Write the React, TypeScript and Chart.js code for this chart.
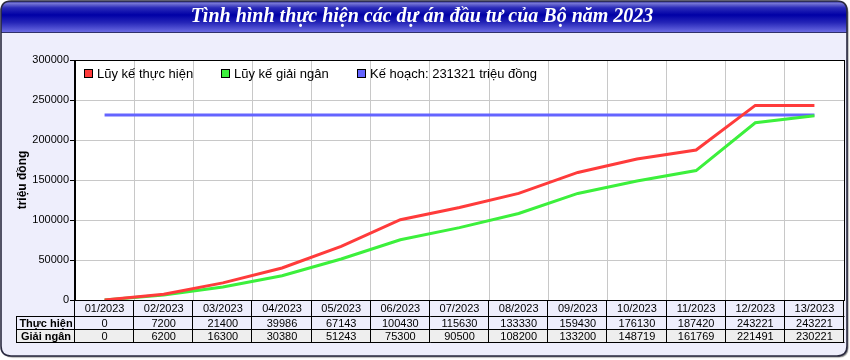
import React, { useEffect, useRef } from 'react';
import { Chart, registerables } from 'chart.js';

Chart.register(...registerables);

const TITLE = 'Tình hình thực hiện các dự án đầu tư của Bộ năm 2023';
const Y_TITLE = 'triệu đồng';
const MONTHS = ['01/2023', '02/2023', '03/2023', '04/2023', '05/2023', '06/2023', '07/2023', '08/2023', '09/2023', '10/2023', '11/2023', '12/2023', '13/2023'];
const THUC_HIEN = [0, 7200, 21400, 39986, 67143, 100430, 115630, 133330, 159430, 176130, 187420, 243221, 243221];
const GIAI_NGAN = [0, 6200, 16300, 30380, 51243, 75300, 90500, 108200, 133200, 148719, 161769, 221491, 230221];
const KE_HOACH = [231321, 231321, 231321, 231321, 231321, 231321, 231321, 231321, 231321, 231321, 231321, 231321, 231321];
const SERIES_NAMES = ['Lũy kế thực hiện', 'Lũy kế giải ngân', 'Kế hoạch: 231321 triệu đồng'];
const ROW_LABELS = ['Thực hiện', 'Giải ngân'];
const Y_MIN = 0;
const Y_MAX = 300000;
const Y_STEP = 50000;

const COLORS = ['#ff3b3b', '#3cf03c', '#6464ff'];
const FONT = '"Liberation Sans", Arial, sans-serif';

function roundRectPath(ctx: CanvasRenderingContext2D, x: number, y: number, w: number, h: number, r: number) {
  ctx.beginPath();
  ctx.moveTo(x + r, y);
  ctx.lineTo(x + w - r, y);
  ctx.quadraticCurveTo(x + w, y, x + w, y + r);
  ctx.lineTo(x + w, y + h - r);
  ctx.quadraticCurveTo(x + w, y + h, x + w - r, y + h);
  ctx.lineTo(x + r, y + h);
  ctx.quadraticCurveTo(x, y + h, x, y + h - r);
  ctx.lineTo(x, y + r);
  ctx.quadraticCurveTo(x, y, x + r, y);
  ctx.closePath();
}

const framePlugin = {
  id: 'frame',
  beforeDraw(chart: any) {
    const ctx: CanvasRenderingContext2D = chart.ctx;
    const W = chart.width;
    const H = chart.height;
    const ca = chart.chartArea;
    ctx.save();
    ctx.save();
    ctx.shadowColor = 'rgba(0,0,0,0.45)';
    ctx.shadowOffsetX = 1.5;
    ctx.shadowOffsetY = 1.5;
    ctx.shadowBlur = 1;
    roundRectPath(ctx, 1, 1, W - 4, H - 5, 10);
    ctx.fillStyle = '#eeeefc';
    ctx.fill();
    ctx.restore();
    ctx.save();
    roundRectPath(ctx, 1, 1, W - 4, H - 5, 10);
    ctx.clip();
    const g = ctx.createLinearGradient(0, 1, 0, 32);
    g.addColorStop(0, '#2a2a90');
    g.addColorStop(0.08, '#7474d4');
    g.addColorStop(0.22, '#2a2ab8');
    g.addColorStop(0.45, '#0000a6');
    g.addColorStop(0.7, '#2626b8');
    g.addColorStop(1, '#6a6ae2');
    ctx.fillStyle = g;
    ctx.fillRect(0, 0, W, 32);
    ctx.fillStyle = '#30306a';
    ctx.fillRect(0, 32, W, 1);
    ctx.restore();
    roundRectPath(ctx, 1, 1, W - 4, H - 5, 10);
    ctx.lineWidth = 1.6;
    ctx.strokeStyle = '#2a2a40';
    ctx.stroke();
    ctx.fillStyle = '#ffffff';
    ctx.fillRect(ca.left, ca.top, ca.right - ca.left, ca.bottom - ca.top);
    ctx.restore();
  },
  afterDraw(chart: any) {
    const ctx: CanvasRenderingContext2D = chart.ctx;
    const ca = chart.chartArea;
    const xs = chart.scales.x;
    ctx.save();
    ctx.strokeStyle = '#000';
    ctx.lineWidth = 1;
    ctx.strokeRect(Math.round(ca.left) - 0.5, Math.round(ca.top) + 0.5, Math.round(ca.right - ca.left) + 1, Math.round(ca.bottom - ca.top));

    // data table
    const y0 = Math.round(ca.bottom);
    const rows = [y0, y0 + 16, y0 + 29, y0 + 42];
    const headL = 16;
    const right = Math.round(ca.right);
    ctx.fillStyle = '#eeeeee';
    ctx.fillRect(headL, rows[2], right - headL, rows[3] - rows[2]);
    ctx.beginPath();
    for (let r = 1; r < rows.length; r++) {
      ctx.moveTo(headL, rows[r] + 0.5);
      ctx.lineTo(right + 0.5, rows[r] + 0.5);
    }
    ctx.moveTo(headL + 0.5, rows[1]);
    ctx.lineTo(headL + 0.5, rows[3] + 1);
    for (let i = 0; i <= MONTHS.length; i++) {
      const bx = Math.round(xs.getPixelForValue(i - 0.5)) - 0.5;
      ctx.moveTo(bx, rows[0]);
      ctx.lineTo(bx, rows[3] + 1);
    }
    ctx.stroke();

    ctx.fillStyle = '#000';
    ctx.textAlign = 'center';
    ctx.textBaseline = 'middle';
    ctx.font = `11px ${FONT}`;
    const tableData = [THUC_HIEN, GIAI_NGAN];
    for (let i = 0; i < MONTHS.length; i++) {
      const cx = xs.getPixelForValue(i);
      ctx.fillText(MONTHS[i], cx, (rows[0] + rows[1]) / 2 + 1);
      for (let r = 0; r < tableData.length; r++) {
        ctx.fillText(String(tableData[r][i]), cx, (rows[r + 1] + rows[r + 2]) / 2 + 1);
      }
    }
    ctx.font = `bold 11px ${FONT}`;
    const headCx = (headL + Math.round(ca.left)) / 2 + 0.5;
    for (let r = 0; r < ROW_LABELS.length; r++) {
      ctx.fillText(ROW_LABELS[r], headCx, (rows[r + 1] + rows[r + 2]) / 2 + 1);
    }

    // legend
    ctx.font = `13px ${FONT}`;
    ctx.textAlign = 'left';
    let lx = Math.round(ca.left) + 9;
    const ly = Math.round(ca.top) + 9;
    for (let i = 0; i < SERIES_NAMES.length; i++) {
      ctx.fillStyle = COLORS[i];
      ctx.fillRect(lx, ly, 9, 9);
      ctx.strokeStyle = '#000';
      ctx.strokeRect(lx + 0.5, ly + 0.5, 8, 8);
      ctx.fillStyle = '#000';
      ctx.fillText(SERIES_NAMES[i], lx + 13, ly + 5);
      const w = ctx.measureText(SERIES_NAMES[i]).width;
      lx = Math.round(lx + 13 + w + 28);
    }
    ctx.restore();
  },
};

export default function App() {
  const ref = useRef<HTMLCanvasElement | null>(null);
  useEffect(() => {
    if (!ref.current) return;
    Chart.defaults.font.family = FONT;
    Chart.defaults.color = '#000';
    const chart = new Chart(ref.current, {
      type: 'line',
      data: {
        labels: MONTHS,
        datasets: [
          { label: SERIES_NAMES[0], data: THUC_HIEN, borderColor: COLORS[0], backgroundColor: COLORS[0], borderWidth: 3, pointRadius: 0, tension: 0, fill: false },
          { label: SERIES_NAMES[1], data: GIAI_NGAN, borderColor: COLORS[1], backgroundColor: COLORS[1], borderWidth: 3, pointRadius: 0, tension: 0, fill: false },
          { label: SERIES_NAMES[2], data: KE_HOACH, borderColor: COLORS[2], backgroundColor: COLORS[2], borderWidth: 3, pointRadius: 0, tension: 0, fill: false },
        ],
      },
      options: {
        responsive: false,
        animation: false,
        events: [],
        layout: { padding: { left: 0, right: 6, top: 0, bottom: 60 } },
        plugins: {
          legend: { display: false },
          tooltip: { enabled: false },
          title: {
            display: true,
            text: TITLE,
            color: '#ffffff',
            font: { family: '"Liberation Serif", "Times New Roman", serif', size: 20, style: 'italic', weight: 'bold', lineHeight: 1.2 },
            padding: { top: 5, bottom: 31 },
          },
        },
        scales: {
          x: {
            type: 'category',
            offset: true,
            grid: { offset: true, color: '#c8c8c8', drawTicks: false },
            border: { display: true, color: '#000' },
            ticks: { display: false },
            afterFit: (s: any) => { s.height = 0; },
          },
          y: {
            min: Y_MIN,
            max: Y_MAX,
            ticks: { stepSize: Y_STEP, padding: 1, color: '#000', font: { size: 11 }, callback: (v: any) => String(v) },
            grid: { color: '#c8c8c8', tickColor: '#000', tickLength: 5 },
            border: { display: true, color: '#000' },
            title: { display: true, text: Y_TITLE, color: '#000', font: { size: 12, weight: 'bold' }, padding: { top: 15, bottom: 0 } },
            afterFit: (s: any) => { s.width = 75; },
          },
        },
      },
      plugins: [framePlugin],
    });
    return () => chart.destroy();
  }, []);
  return (
    <div style={{ position: 'fixed', left: 0, top: 0, width: 850, height: 360 }}>
      <canvas ref={ref} width={850} height={360} />
    </div>
  );
}
